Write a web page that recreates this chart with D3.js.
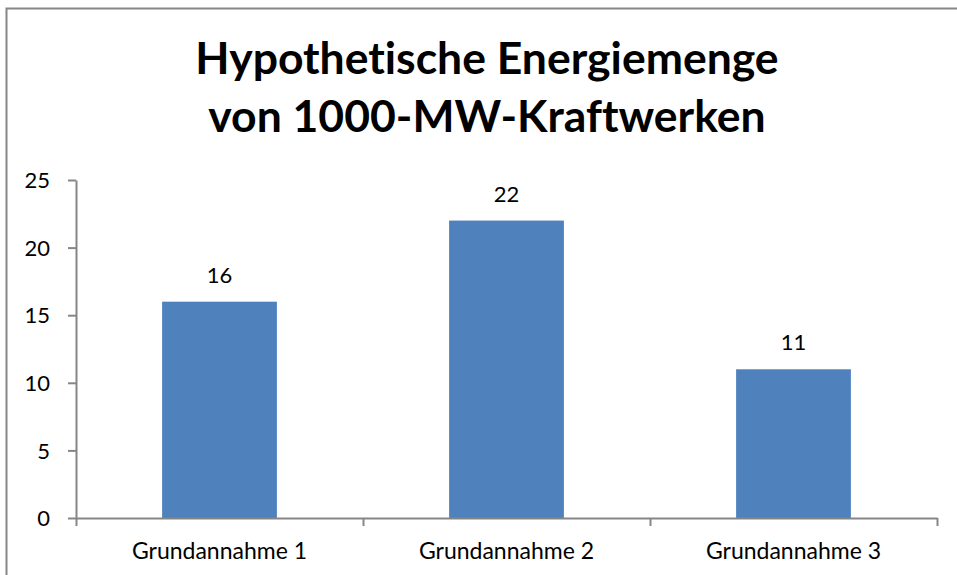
<!DOCTYPE html>
<html><head><meta charset="utf-8">
<script src="https://cdn.jsdelivr.net/npm/d3@7"></script>
<style>html,body{margin:0;padding:0;background:#fff;overflow:hidden} text{font-variant-ligatures:none;font-feature-settings:"liga" 0}</style>
</head><body>
<svg id="c" width="957" height="575"></svg>
<script>
const categories = ["Grundannahme 1", "Grundannahme 2", "Grundannahme 3"];
const values = [16, 22, 11];
const yTicks = [0, 5, 10, 15, 20, 25];
const titleLines = ["Hypothetische Energiemenge", "von 1000-MW-Kraftwerken"];

const svg = d3.select("#c");
const font = "Lato, 'Open Sans', sans-serif";
svg.append("rect").attr("x", 6.5).attr("y", 8.5).attr("width", 1000).attr("height", 600)
  .attr("fill", "#fff").attr("stroke", "#868686").attr("stroke-width", 2);

const m = {left: 76, right: 937, top: 180, bottom: 518};
const x = d3.scaleBand().domain(categories).range([m.left, m.right]).paddingInner(0.6).paddingOuter(0.3);
const xb = d3.scaleLinear().domain([0, 3]).range([m.left, m.right]);
const y = d3.scaleLinear().domain([0, 25]).range([m.bottom, m.top]);

// title
svg.append("text").attr("x", 487).attr("y", 74).attr("text-anchor", "middle")
  .attr("font-family", font).attr("font-weight", "bold").attr("font-size", 44.5)
  .selectAll("tspan").data(titleLines).join("tspan")
  .attr("x", 487).attr("dy", (d, i) => i ? 58 : 0).text(d => d);

// bars
svg.selectAll("rect.bar").data(values).join("rect").attr("class", "bar")
  .attr("x", (d, i) => x(categories[i])).attr("width", x.bandwidth())
  .attr("y", d => y(d)).attr("height", d => y(0) - y(d)).attr("fill", "#4F81BD");

svg.selectAll("text.lbl").data(values).join("text").attr("class", "lbl")
  .attr("x", (d, i) => x(categories[i]) + x.bandwidth() / 2).attr("y", d => y(d) - 19)
  .attr("text-anchor", "middle").attr("font-family", font).attr("font-size", 22).attr("fill", "#000")
  .text(d => d);

// y axis
const ya = svg.append("g").attr("transform", `translate(${m.left},0)`)
  .call(d3.axisLeft(y).tickValues(yTicks).tickSize(8).tickPadding(8).tickSizeOuter(0));
ya.select(".domain").attr("stroke", "#868686").attr("stroke-width", 2);
ya.selectAll(".tick line").attr("stroke", "#868686").attr("stroke-width", 2);
ya.selectAll("text").attr("font-family", font).attr("font-size", 22).attr("fill", "#000")
  .attr("dy", "0.35em").attr("dx", -10);

// x axis
const xa = svg.append("g").attr("transform", `translate(0,${m.bottom})`)
  .call(d3.axisBottom(xb).tickValues([0, 1, 2, 3]).tickSize(8).tickFormat("").tickSizeOuter(0));
xa.select(".domain").attr("stroke", "#868686").attr("stroke-width", 2);
xa.selectAll(".tick line").attr("stroke", "#868686").attr("stroke-width", 2);

svg.selectAll("text.cat").data(categories).join("text").attr("class", "cat")
  .attr("x", d => x(d) + x.bandwidth() / 2).attr("y", 559).attr("text-anchor", "middle")
  .attr("font-family", font).attr("font-size", 23).attr("fill", "#000").text(d => d);
</script>
</body></html>
